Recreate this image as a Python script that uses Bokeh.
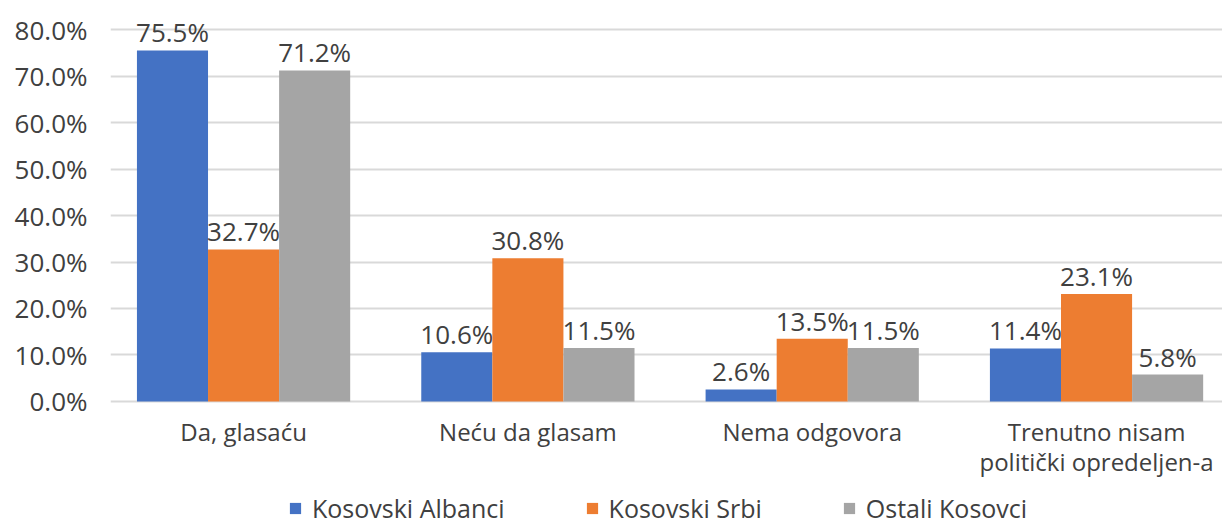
from bokeh.plotting import figure
from bokeh.models import (ColumnDataSource, FixedTicker, PrintfTickFormatter,
                          Legend, LegendItem, Range1d)
from bokeh.transform import dodge
from bokeh.embed import file_html
from bokeh.resources import INLINE
from bokeh.core.properties import value

categories = ["Da, glasaću", "Neću da glasam", "Nema odgovora",
              "Trenutno nisam\npolitički opredeljen-a"]
series_names = ["Kosovski Albanci", "Kosovski Srbi", "Ostali Kosovci"]
albanci = [75.5, 10.6, 2.6, 11.4]
srbi = [32.7, 30.8, 13.5, 23.1]
ostali = [71.2, 11.5, 11.5, 5.8]
colors = ["#4472C4", "#ED7D31", "#A5A5A5"]
y_ticks = [0, 10, 20, 30, 40, 50, 60, 70, 80]

FONT = "Open Sans"
TXT = "#404040"
NUM_FS = "26px"
WORD_FS = "24px"

xs = list(range(len(categories)))

p = figure(width=1222, height=525, output_backend="svg", toolbar_location=None,
           x_axis_location=None,
           x_range=Range1d(-0.468, 3.443), y_range=Range1d(-26.67, 84.52),
           min_border_left=110, min_border_right=0, min_border_top=8,
           min_border_bottom=0)
p.outline_line_color = None
p.background_fill_color = "white"

offsets = [-0.25, 0.0, 0.25]
renderers = []
for vals, off, col, name in zip([albanci, srbi, ostali], offsets, colors, series_names):
    src = ColumnDataSource(dict(x=xs, top=vals, lab=["%.1f%%" % v for v in vals]))
    r = p.vbar(x=dodge("x", off), top="top", bottom=0, width=0.25, source=src,
               fill_color=col, line_color=None)
    renderers.append((name, r))
    p.text(x=dodge("x", off), y="top", text="lab", source=src,
           text_font=value(FONT), text_font_size=NUM_FS, text_color=TXT,
           text_align="center", text_baseline="bottom")

# category labels under the baseline
cat_src = ColumnDataSource(dict(x=xs, y=[0] * len(xs), lab=categories))
p.text(x="x", y="y", text="lab", source=cat_src, y_offset=14,
       text_font=value(FONT), text_font_size=WORD_FS, text_color=TXT,
       text_align="center", text_baseline="top", text_line_height=0.9)

# y axis
p.yaxis.ticker = FixedTicker(ticks=y_ticks)
p.yaxis.formatter = PrintfTickFormatter(format="%.1f%%")
p.yaxis.axis_line_color = None
p.yaxis.major_tick_line_color = None
p.yaxis.minor_tick_line_color = None
p.yaxis.major_label_standoff = 17
p.yaxis.major_label_text_font = FONT
p.yaxis.major_label_text_font_size = NUM_FS
p.yaxis.major_label_text_color = TXT

p.xgrid.grid_line_color = None
p.ygrid.grid_line_color = "#D9D9D9"
p.ygrid.grid_line_width = 2

legend = Legend(items=[LegendItem(label=n, renderers=[r]) for n, r in renderers],
                orientation="horizontal", location=(178, 0),
                label_text_font=FONT, label_text_font_size="25px", label_text_color=TXT,
                glyph_width=14, glyph_height=14, label_standoff=10, spacing=80,
                padding=0, margin=0, border_line_color=None,
                background_fill_alpha=0)
p.add_layout(legend, "center")

open("out.html", "w").write(file_html(p, INLINE))
